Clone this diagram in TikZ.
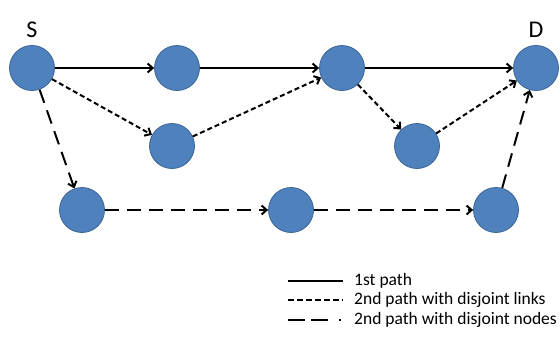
\documentclass[tikz,border=0pt]{standalone}
\usepackage{fontspec}
\setmainfont{Carlito}
\usetikzlibrary{arrows.meta}
\definecolor{nodeblue}{HTML}{4F81BD}
\definecolor{nodeedge}{HTML}{3A6496}
\begin{document}
\begin{tikzpicture}[x=1pt,y=-1pt,
  vtx/.style={circle,fill=nodeblue,draw=nodeedge,line width=0.8pt,minimum size=45pt,inner sep=0pt},
  lbl/.style={font=\fontsize{24}{26}\selectfont,inner sep=0pt},
  conn/.style={line width=2pt,-{Straight Barb[length=5pt,width=9pt]}},
  solidp/.style={conn},
  linkp/.style={conn,dash pattern=on 5pt off 3pt},
  nodep/.style={conn,dash pattern=on 14pt off 8pt},
  legtxt/.style={anchor=west,font=\fontsize{17.5}{19}\selectfont,inner sep=0pt}]
\useasboundingbox (0,0) rectangle (560,338);
\node[vtx] (s) at (32,68) {};
\node[vtx] (a) at (177,68) {};
\node[vtx] (b) at (342,68) {};
\node[vtx] (d) at (536,68) {};
\node[vtx] (c) at (172,146) {};
\node[vtx] (e) at (417,146) {};
\node[vtx] (f) at (82,210) {};
\node[vtx] (g) at (291,210) {};
\node[vtx] (h) at (496,210) {};
\node[lbl] (sl) at (32,30) {S};
\node[lbl] (dl) at (536,30) {D};
\draw[solidp] (s) -- (a);
\draw[solidp] (a) -- (b);
\draw[solidp] (b) -- (d);
\draw[linkp] (s) -- (c);
\draw[linkp] (c) -- (b);
\draw[linkp] (b) -- (e);
\draw[linkp] (e) -- (d);
\draw[nodep] (s) -- (f);
\draw[nodep] (f) -- (g);
\draw[nodep] (g) -- (h);
\draw[nodep] (h) -- (d);
\coordinate (l1a) at (288,281); \coordinate (l1b) at (343,281);
\coordinate (l2a) at (288,300); \coordinate (l2b) at (343,300);
\coordinate (l3a) at (288,320); \coordinate (l3b) at (343,320);
\draw[line width=2pt] (l1a) -- (l1b);
\draw[line width=2pt,dash pattern=on 6pt off 3pt] (l2a) -- (l2b);
\draw[line width=2pt,dash pattern=on 17pt off 6pt on 17pt off 11pt on 2pt off 10pt] (l3a) -- (l3b);
\node[legtxt] (t1) at (354,281) {1st path};
\node[legtxt] (t2) at (354,300) {2nd path with disjoint links};
\node[legtxt] (t3) at (354,320) {2nd path with disjoint nodes};
\end{tikzpicture}
\end{document}
